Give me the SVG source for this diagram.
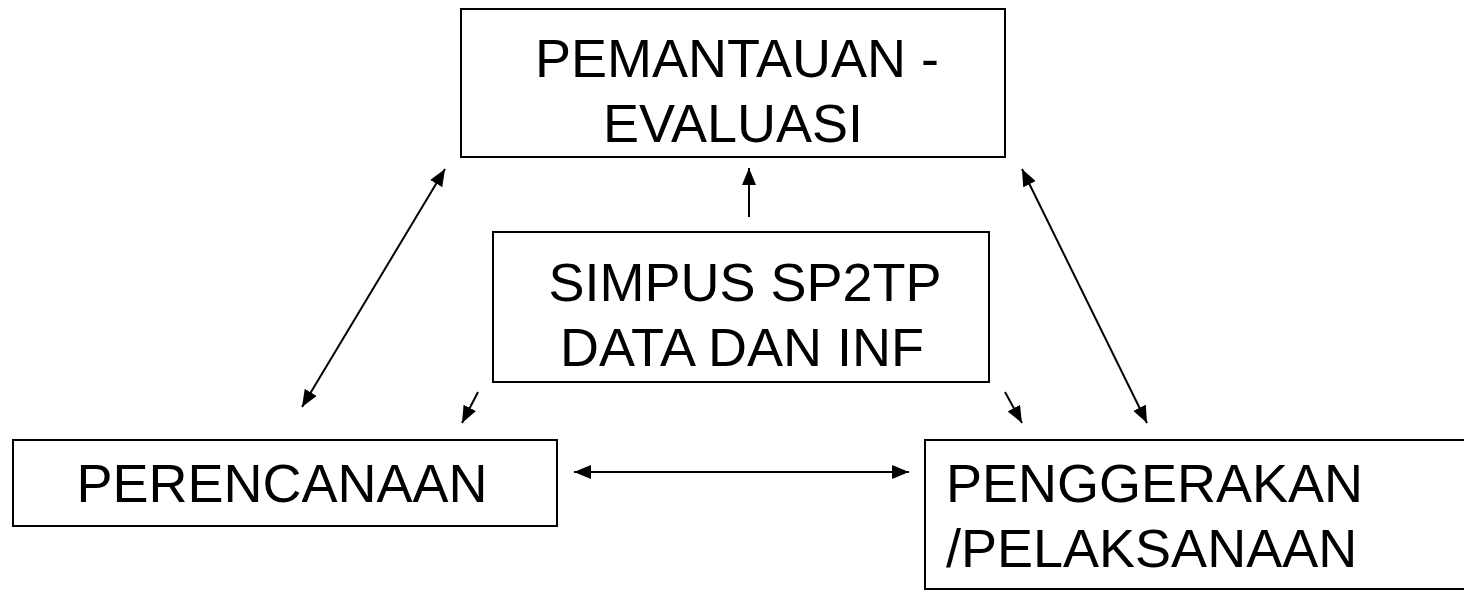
<svg xmlns="http://www.w3.org/2000/svg" width="1464" height="590" viewBox="0 0 1464 590">
  <style>
    .box { fill: #ffffff; stroke: #000000; stroke-width: 2; }
    .label { font-family: "Liberation Sans", Arial, sans-serif; font-size: 54px; fill: #000000; }
    .mid { text-anchor: middle; }
    .link { stroke: #000000; stroke-width: 2; fill: none; }
    .one { marker-end: url(#head); }
    .both { marker-start: url(#head); marker-end: url(#head); }
  </style>
  <defs>
    <marker id="head" viewBox="0 0 17 14" refX="17" refY="7" markerWidth="17" markerHeight="14" markerUnits="userSpaceOnUse" orient="auto-start-reverse">
      <path d="M0,0 L17,7 L0,14 z" fill="#000000"/>
    </marker>
  </defs>
  <rect width="1464" height="590" fill="#ffffff"/>

  <g id="pemantauan">
    <rect class="box" x="461" y="9" width="544" height="148"/>
    <text class="label mid" x="737" y="77">PEMANTAUAN -</text>
    <text class="label mid" x="733" y="142">EVALUASI</text>
  </g>

  <g id="simpus">
    <rect class="box" x="493" y="232" width="496" height="150"/>
    <text class="label mid" x="745" y="301">SIMPUS SP2TP</text>
    <text class="label mid" x="742" y="366">DATA DAN INF</text>
  </g>

  <g id="perencanaan">
    <rect class="box" x="13" y="440" width="544" height="86"/>
    <text class="label mid" x="282" y="502">PERENCANAAN</text>
  </g>

  <g id="penggerakan">
    <rect class="box" x="925" y="440" width="560" height="149"/>
    <text class="label" x="946" y="502">PENGGERAKAN</text>
    <text class="label" x="946" y="567">/PELAKSANAAN</text>
  </g>

  <g id="connectors">
    <line class="link both" x1="445" y1="169" x2="302" y2="407"/>
    <line class="link both" x1="1022" y1="169" x2="1147" y2="423"/>
    <line class="link one" x1="749" y1="217" x2="749" y2="168"/>
    <line class="link one" x1="478" y1="392" x2="462" y2="423"/>
    <line class="link one" x1="1005" y1="392" x2="1022" y2="423"/>
    <line class="link both" x1="574" y1="472" x2="909" y2="472"/>
  </g>
</svg>
